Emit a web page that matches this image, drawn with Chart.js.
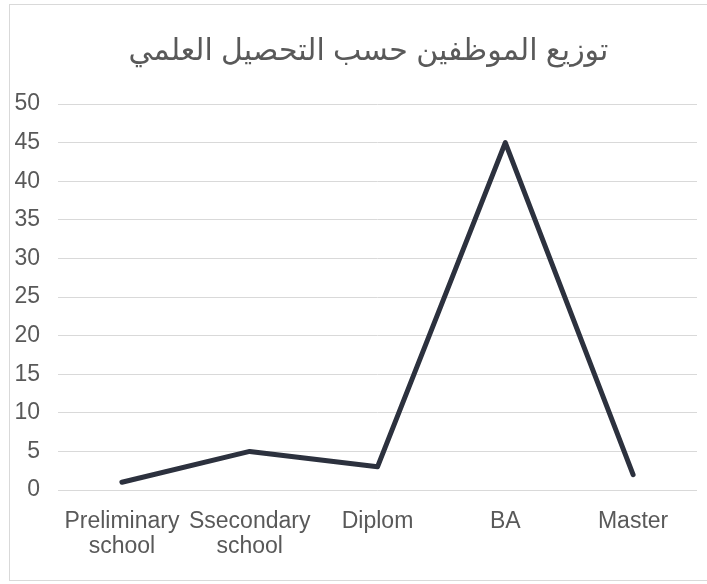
<!DOCTYPE html>
<html>
<head>
<meta charset="utf-8">
<script src="https://cdn.jsdelivr.net/npm/chart.js@4/dist/chart.umd.min.js"></script>
<style>
    html, body { margin: 0; padding: 0; background: #fff; }
    #wrap {
        position: absolute;
        left: 9px;
        top: 4px;
        width: 698px;
        height: 575px;
        border: 1px solid #d9d9d9;
        border-right: none;
        background: #fff;
    }
</style>
</head>
<body>
<div id="wrap"><canvas id="eduChart"></canvas></div>
<script>
const chartTitle = 'توزيع الموظفين حسب التحصيل العلمي';
const categories = [['Preliminary', 'school'], ['Ssecondary', 'school'], 'Diplom', 'BA', 'Master'];
const employees = [1, 5, 3, 45, 2];
const yTicks = [0, 5, 10, 15, 20, 25, 30, 35, 40, 45, 50];

const textColor = '#595959';
const fontFamily = "Arial, 'Liberation Sans', 'DejaVu Sans', sans-serif";

document.addEventListener('DOMContentLoaded', () => {
    const el = document.getElementById('eduChart');

    new Chart(el, {
        type: 'line',
        data: {
            labels: categories,
            datasets: [
                {
                    label: chartTitle,
                    data: employees,
                    borderColor: '#2c313e',
                    borderWidth: 5,
                    borderCapStyle: 'round',
                    borderJoinStyle: 'round',
                    pointRadius: 0,
                    pointHoverRadius: 0,
                    tension: 0,
                    fill: false,
                },
            ],
        },
        options: {
            responsive: true,
            maintainAspectRatio: false,
            animation: false,
            layout: {
                padding: { top: 0, right: 11, bottom: 0, left: 0 },
            },
            plugins: {
                legend: { display: false },
                tooltip: { enabled: false },
                title: {
                    display: true,
                    // two en spaces nudge the centred title to the right, as in the original
                    text: '\u2002\u2002' + chartTitle,
                    color: textColor,
                    font: { family: fontFamily, size: 30, weight: 'normal', lineHeight: 1.2 },
                    padding: { top: 29, bottom: 34 },
                },
            },
            scales: {
                x: {
                    offset: true,
                    grid: { display: false, drawTicks: false },
                    border: { display: false },
                    ticks: {
                        color: textColor,
                        font: { family: fontFamily, size: 23, lineHeight: 1.1 },
                        padding: 19,
                        maxRotation: 0,
                        autoSkip: false,
                    },
                    afterFit: (scale) => { scale.height = 90; },
                },
                y: {
                    min: 0,
                    max: 50,
                    afterBuildTicks: (scale) => {
                        scale.ticks = yTicks.map((v) => ({ value: v }));
                    },
                    grid: { color: '#d9d9d9', lineWidth: 1, drawTicks: false },
                    border: { display: false },
                    ticks: {
                        color: textColor,
                        font: { family: fontFamily, size: 23 },
                        padding: 18,
                    },
                    afterFit: (scale) => { scale.width = 48; },
                },
            },
        },
    });
});
</script>
</body>
</html>
